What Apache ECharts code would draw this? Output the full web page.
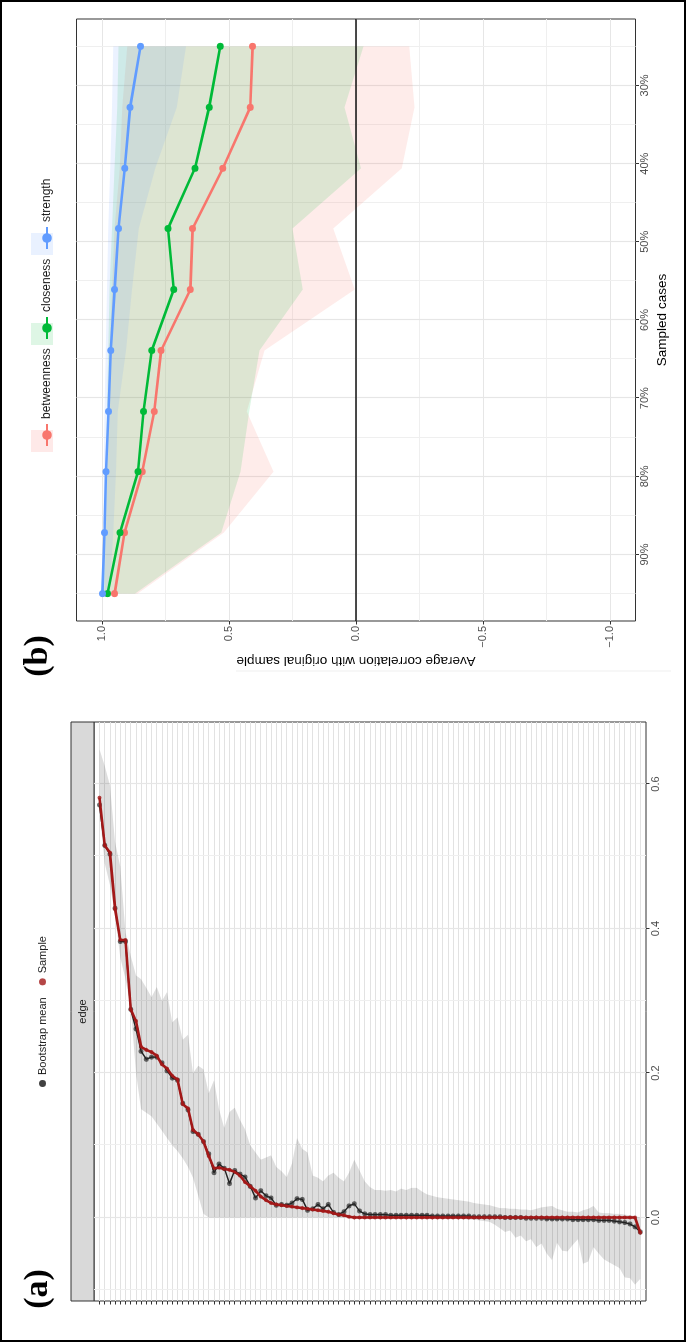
<!DOCTYPE html>
<html>
<head>
<meta charset="utf-8">
<script src="https://cdn.jsdelivr.net/npm/echarts@6/dist/echarts.min.js"></script>
<style>
  html, body { margin: 0; padding: 0; background: #fff; overflow: hidden; width: 686px; height: 1342px; }
  /* the figure is drawn upright (1342 x 686) and turned a quarter turn counter-clockwise */
  #stage { position: absolute; left: 0; top: 0; width: 1342px; height: 686px;
           transform-origin: 0 0; transform: translate(0, 1342px) rotate(-90deg); }
</style>
</head>
<body>
<div id="stage"></div>
<script>
// ---------- panel (a): edge weights, sorted by sample value ----------
const edgeSample = [
  0.581, 0.515, 0.505, 0.427, 0.384, 0.384, 0.288, 0.272, 0.236, 0.232,
  0.229, 0.224, 0.212, 0.206, 0.196, 0.191, 0.157, 0.151, 0.121, 0.115,
  0.105, 0.085, 0.068, 0.069, 0.067, 0.066, 0.063, 0.058, 0.049, 0.043,
  0.037, 0.029, 0.024, 0.020, 0.018, 0.017, 0.016, 0.015, 0.014, 0.013,
  0.012, 0.011, 0.010, 0.009, 0.008, 0.006, 0.004, 0.003, 0.001, 0,
  0, 0, 0, 0, 0, 0, 0, 0, 0, 0,
  0, 0, 0, 0, 0, 0, 0, 0, 0, 0,
  0, 0, 0, 0, 0, 0, 0, 0, 0, 0,
  0, 0, 0, 0, 0, 0, 0, 0, 0, 0,
  0, 0, 0, 0, 0, 0, 0, 0, 0, 0,
  0, 0, 0, 0, -0.021
];
const edgeBootMean = [
  0.571, 0.515, 0.503, 0.428, 0.382, 0.382, 0.288, 0.261, 0.230, 0.219,
  0.222, 0.222, 0.214, 0.203, 0.193, 0.190, 0.158, 0.149, 0.119, 0.115,
  0.105, 0.088, 0.062, 0.074, 0.068, 0.047, 0.065, 0.060, 0.056, 0.043,
  0.027, 0.037, 0.030, 0.027, 0.017, 0.018, 0.017, 0.020, 0.026, 0.025,
  0.010, 0.012, 0.018, 0.012, 0.018, 0.007, 0.004, 0.008, 0.016, 0.019,
  0.009, 0.005, 0.004, 0.004, 0.004, 0.004, 0.003, 0.003, 0.003, 0.003,
  0.003, 0.003, 0.003, 0.003, 0.002, 0.002, 0.002, 0.002, 0.002, 0.002,
  0.002, 0.002, 0.001, 0.001, 0.001, 0.001, 0.001, 0.001, 0.000, 0.000,
  0.000, 0.000, -0.001, -0.001, -0.001, -0.001, -0.002, -0.002, -0.002, -0.002,
  -0.002, -0.003, -0.003, -0.003, -0.003, -0.003, -0.004, -0.004, -0.004, -0.005,
  -0.006, -0.007, -0.009, -0.013, -0.020
];
const edgeUpper = [
  0.648, 0.625, 0.598, 0.520, 0.486, 0.395, 0.362, 0.335, 0.330, 0.318,
  0.305, 0.319, 0.300, 0.312, 0.270, 0.277, 0.246, 0.253, 0.200, 0.210,
  0.205, 0.172, 0.190, 0.150, 0.124, 0.146, 0.152, 0.135, 0.122, 0.100,
  0.090, 0.080, 0.083, 0.086, 0.070, 0.064, 0.056, 0.075, 0.110, 0.095,
  0.090, 0.058, 0.055, 0.050, 0.058, 0.062, 0.055, 0.050, 0.062, 0.080,
  0.065, 0.050, 0.042, 0.038, 0.038, 0.037, 0.038, 0.036, 0.040, 0.038,
  0.041, 0.041, 0.036, 0.032, 0.030, 0.028, 0.027, 0.026, 0.025, 0.024,
  0.023, 0.022, 0.020, 0.019, 0.018, 0.017, 0.015, 0.013, 0.013, 0.012,
  0.012, 0.011, 0.011, 0.010, 0.012, 0.014, 0.015, 0.016, 0.012, 0.010,
  0.008, 0.008, 0.007, 0.010, 0.012, 0.016, 0.007, 0.006, 0.006, 0.005,
  0.005, 0.004, 0.003, 0.002, 0.000
];
const edgeLower = [
  0.560, 0.490, 0.460, 0.420, 0.360, 0.330, 0.290, 0.200, 0.150, 0.145,
  0.140, 0.130, 0.120, 0.110, 0.100, 0.092, 0.082, 0.070, 0.055, 0.030,
  0.005, 0, 0, 0, 0, 0, 0, 0, 0, 0,
  0, 0, 0, 0, 0, 0, 0, 0, 0, 0,
  0, 0, 0, 0, 0, 0, 0, 0, 0, 0,
  0, 0, 0, 0, 0, 0, 0, 0, 0, 0,
  0, 0, 0, 0, 0, 0, 0, 0, 0, 0,
  -0.002, -0.003, -0.003, -0.004, -0.005, -0.006, -0.010, -0.015, -0.020, -0.018,
  -0.028, -0.025, -0.033, -0.030, -0.041, -0.036, -0.050, -0.059, -0.035, -0.046,
  -0.047, -0.038, -0.030, -0.064, -0.061, -0.041, -0.050, -0.058, -0.062, -0.066,
  -0.070, -0.083, -0.084, -0.093, -0.085
];
const edgeIndex = edgeSample.map((_, i) => i);
const edgeTicks = [0, 0.2, 0.4, 0.6];
const edgeMinorTicks = [-0.1, 0.1, 0.3, 0.5];

// ---------- panel (b): case-dropping stability ----------
const sampledCases = [0.25, 0.328, 0.406, 0.483, 0.561, 0.639, 0.717, 0.794, 0.872, 0.95];
const betweenness = [0.407, 0.416, 0.524, 0.643, 0.652, 0.767, 0.794, 0.841, 0.911, 0.950];
const closeness   = [0.534, 0.578, 0.634, 0.740, 0.717, 0.804, 0.836, 0.858, 0.929, 0.978];
const strength    = [0.848, 0.889, 0.910, 0.935, 0.950, 0.965, 0.974, 0.984, 0.990, 0.998];
const betweennessLower = [-0.21, -0.23, -0.18, 0.09, 0.005, 0.36, 0.43, 0.325, 0.52, 0.86];
const betweennessUpper = [0.90, 0.92, 0.93, 0.95, 0.96, 0.97, 0.975, 0.98, 0.985, 0.99];
const closenessLower   = [-0.03, 0.045, -0.02, 0.25, 0.21, 0.38, 0.42, 0.455, 0.53, 0.87];
const closenessUpper   = [0.935, 0.94, 0.95, 0.96, 0.97, 0.975, 0.98, 0.985, 0.99, 0.995];
const strengthLower    = [0.669, 0.705, 0.79, 0.855, 0.882, 0.905, 0.938, 0.945, 0.955, 0.97];
const strengthUpper    = [0.955, 0.96, 0.967, 0.975, 0.98, 0.985, 0.99, 0.993, 0.996, 1.0];
const sampledTicks = [0.3, 0.4, 0.5, 0.6, 0.7, 0.8, 0.9];
const sampledMinorTicks = [0.25, 0.35, 0.45, 0.55, 0.65, 0.75, 0.85, 0.95];
const corrTicks = [-1, -0.5, 0, 0.5, 1];
const corrMinorTicks = [-0.75, -0.25, 0.25, 0.75];

const FONT = '"Liberation Sans", Arial, Helvetica, sans-serif';
const TICK_TEXT = '#4d4d4d';
const GRID_MAJOR = '#e6e6e6';
const GRID_MINOR = '#efefef';
const COLORS = { betweenness: '#F8766D', closeness: '#00BA38', strength: '#619CFF' };
const SAMPLE_RED = '#a31818';

// polygon between two bounds, drawn through the axes of the series
const bandRenderer = (lower, upper, pos, flip, fill) => (params, api) => {
  if (params.dataIndex !== 0) return null;
  const pt = (v, p) => api.coord(flip ? [v, p] : [p, v]);
  const points = [];
  for (let i = 0; i < pos.length; i++) points.push(pt(upper[i], pos[i]));
  for (let i = pos.length - 1; i >= 0; i--) points.push(pt(lower[i], pos[i]));
  return { type: 'polygon', silent: true, shape: { points }, style: { fill } };
};

const fmtCorr = (v) => (v < 0 ? '\u2212' : '') + Math.abs(v).toFixed(1);

const chart = echarts.init(document.getElementById('stage'), null, { width: 1342, height: 686 });

const bLegend = (name, left) => ({
  show: true, left, top: 36, orient: 'horizontal', selectedMode: false,
  itemWidth: 22, itemHeight: 12,
  data: [name],
  textStyle: { fontFamily: FONT, fontSize: 12, color: '#1a1a1a' }
});

const noLine = { show: false, onZero: false };

const option = {
  animation: false,
  textStyle: { fontFamily: FONT },
  grid: [
    { left: 41, right: 722, top: 94, bottom: 40, show: true, backgroundColor: '#fff', borderColor: '#333', borderWidth: 1 },
    { left: 721, right: 19, top: 76.5, bottom: 50.5, show: true, backgroundColor: '#fff', borderColor: '#333', borderWidth: 1 }
  ],
  legend: [
    {
      left: 250, top: 32, selectedMode: false, itemGap: 12, itemWidth: 7, itemHeight: 7,
      data: [{ name: 'Bootstrap mean', icon: 'circle', itemStyle: { color: '#111' } }, { name: 'Sample', icon: 'circle' }],
      textStyle: { fontFamily: FONT, fontSize: 11, color: '#1a1a1a' }
    },
    bLegend('betweenness', 890),
    bLegend('closeness', 997),
    bLegend('strength', 1087)
  ],
  xAxis: [
    {
      gridIndex: 0, type: 'value', min: -0.1156, max: 0.6858, position: 'bottom',
      axisLine: noLine,
      axisTick: { show: true, length: 3.5, lineStyle: { color: '#333' }, customValues: edgeTicks },
      axisLabel: { customValues: edgeTicks, formatter: (v) => v.toFixed(1), color: TICK_TEXT, fontSize: 11, margin: 4 },
      splitLine: { show: true, lineStyle: { color: GRID_MAJOR, width: 1.2 } }
    },
    {
      gridIndex: 0, type: 'value', min: -0.1156, max: 0.6858, position: 'top',
      axisLine: noLine, axisLabel: { show: false },
      axisTick: { show: false, customValues: edgeMinorTicks },
      splitLine: { show: true, lineStyle: { color: GRID_MINOR, width: 1 } }
    },
    {
      gridIndex: 1, type: 'value', min: 0.215, max: 0.985, inverse: true, position: 'bottom',
      name: 'Sampled cases', nameLocation: 'middle', nameGap: 20,
      nameTextStyle: { fontFamily: FONT, fontSize: 13.5, color: '#000' },
      axisLine: noLine,
      axisTick: { show: true, length: 3.5, lineStyle: { color: '#333' }, customValues: sampledTicks },
      axisLabel: { customValues: sampledTicks, formatter: (v) => Math.round(v * 100) + '%', color: TICK_TEXT, fontSize: 11, margin: 4 },
      splitLine: { show: true, lineStyle: { color: GRID_MAJOR, width: 1.2 } }
    },
    {
      gridIndex: 1, type: 'value', min: 0.215, max: 0.985, inverse: true, position: 'top',
      axisLine: noLine, axisLabel: { show: false },
      axisTick: { show: false, customValues: sampledMinorTicks },
      splitLine: { show: true, lineStyle: { color: GRID_MINOR, width: 1 } }
    }
  ],
  yAxis: [
    {
      gridIndex: 0, type: 'value', min: -1.06, max: 105.1, inverse: true, position: 'left',
      axisLine: noLine, axisLabel: { show: false },
      axisTick: { show: true, length: 3.5, lineStyle: { color: '#333' }, customValues: edgeIndex },
      splitLine: { show: true, lineStyle: { color: '#e2e2e2', width: 1.2 } }
    },
    {
      gridIndex: 1, type: 'value', min: -1.1, max: 1.1, position: 'left',
      name: 'Average correlation with original sample', nameLocation: 'middle', nameGap: 33,
      nameTextStyle: { fontFamily: FONT, fontSize: 13.5, color: '#000' },
      axisLine: noLine,
      axisTick: { show: true, length: 3.5, lineStyle: { color: '#333' }, customValues: corrTicks },
      axisLabel: { customValues: corrTicks, formatter: fmtCorr, color: TICK_TEXT, fontSize: 11, margin: 5 },
      splitLine: { show: true, lineStyle: { color: GRID_MAJOR, width: 1.2 } }
    },
    {
      gridIndex: 1, type: 'value', min: -1.1, max: 1.1, position: 'right',
      axisLine: noLine, axisLabel: { show: false },
      axisTick: { show: false, customValues: corrMinorTicks },
      splitLine: { show: true, lineStyle: { color: GRID_MINOR, width: 1 } }
    }
  ],
  series: [
    // ---- panel (a)
    {
      name: 'edge band', type: 'custom', xAxisIndex: 0, yAxisIndex: 0, silent: true,
      data: [[0, 0]],
      renderItem: bandRenderer(edgeLower, edgeUpper, edgeIndex, true, 'rgba(0,0,0,0.13)')
    },
    {
      name: 'Bootstrap mean line', type: 'line', xAxisIndex: 0, yAxisIndex: 0, silent: true,
      showSymbol: false, lineStyle: { color: '#222', width: 1.4 },
      data: edgeBootMean.map((v, i) => [v, i])
    },
    {
      name: 'Sample line', type: 'line', xAxisIndex: 0, yAxisIndex: 0, silent: true,
      showSymbol: false, lineStyle: { color: SAMPLE_RED, width: 2.6 },
      data: edgeSample.map((v, i) => [v, i])
    },
    {
      name: 'Bootstrap mean', type: 'scatter', xAxisIndex: 0, yAxisIndex: 0, silent: true,
      symbolSize: 5, itemStyle: { color: 'rgba(25,25,25,0.8)' },
      data: edgeBootMean.map((v, i) => [v, i])
    },
    {
      name: 'Sample', type: 'scatter', xAxisIndex: 0, yAxisIndex: 0, silent: true,
      symbolSize: 4, itemStyle: { color: SAMPLE_RED },
      data: edgeSample.map((v, i) => [v, i])
    },
    // ---- panel (b)
    {
      name: 'betweenness band', type: 'custom', xAxisIndex: 2, yAxisIndex: 1, silent: true,
      data: [[0.5, 0.5]],
      renderItem: bandRenderer(betweennessLower, betweennessUpper, sampledCases, false, 'rgba(248,118,109,0.14)')
    },
    {
      name: 'closeness band', type: 'custom', xAxisIndex: 2, yAxisIndex: 1, silent: true,
      data: [[0.5, 0.5]],
      renderItem: bandRenderer(closenessLower, closenessUpper, sampledCases, false, 'rgba(0,186,56,0.13)')
    },
    {
      name: 'strength band', type: 'custom', xAxisIndex: 2, yAxisIndex: 1, silent: true,
      data: [[0.5, 0.5]],
      renderItem: bandRenderer(strengthLower, strengthUpper, sampledCases, false, 'rgba(97,156,255,0.13)')
    },
    ...[['betweenness', betweenness], ['closeness', closeness], ['strength', strength]].map(([name, vals], k) => ({
      name, type: 'line', xAxisIndex: 2, yAxisIndex: 1, silent: true,
      symbol: 'circle', symbolSize: 7, showSymbol: true,
      lineStyle: { color: COLORS[name], width: 2.6 },
      itemStyle: { color: COLORS[name] },
      data: sampledCases.map((s, i) => [s, vals[i]]),
      markLine: k === 0 ? {
        silent: true, symbol: 'none', label: { show: false },
        lineStyle: { color: '#111', width: 1.5, type: 'solid' },
        data: [{ yAxis: 0 }]
      } : undefined
    }))
  ],
  graphic: [
    // outer frame of the figure
    { type: 'rect', shape: { x: 1, y: 1, width: 1340, height: 684 }, style: { fill: 'none', stroke: '#000', lineWidth: 2 }, z: 100 },
    { type: 'line', shape: { x1: 671, y1: 236, x2: 671, y2: 671 }, style: { stroke: '#efefef', lineWidth: 1 } },
    // facet strip of panel (a)
    { type: 'rect', shape: { x: 41, y: 71, width: 579, height: 23 }, style: { fill: '#d9d9d9', stroke: '#333', lineWidth: 1 } },
    { type: 'text', x: 330.5, y: 82.5, style: { text: 'edge', font: '11px ' + FONT, fill: '#1a1a1a', align: 'center', verticalAlign: 'middle' } },
    // pale key boxes for panel (b) legend
    { type: 'rect', shape: { x: 890, y: 31, width: 22, height: 22 }, style: { fill: 'rgba(248,118,109,0.16)' } },
    { type: 'rect', shape: { x: 997, y: 31, width: 22, height: 22 }, style: { fill: 'rgba(0,186,56,0.13)' } },
    { type: 'rect', shape: { x: 1087, y: 31, width: 22, height: 22 }, style: { fill: 'rgba(97,156,255,0.14)' } },
    // panel letters
    { type: 'text', x: 53, y: 38, style: { text: '(a)', font: 'bold 34px "Liberation Serif", "Times New Roman", serif', fill: '#000', align: 'center', verticalAlign: 'middle' } },
    { type: 'text', x: 686, y: 38, style: { text: '(b)', font: 'bold 34px "Liberation Serif", "Times New Roman", serif', fill: '#000', align: 'center', verticalAlign: 'middle' } }
  ]
};

chart.setOption(option);
</script>
</body>
</html>
